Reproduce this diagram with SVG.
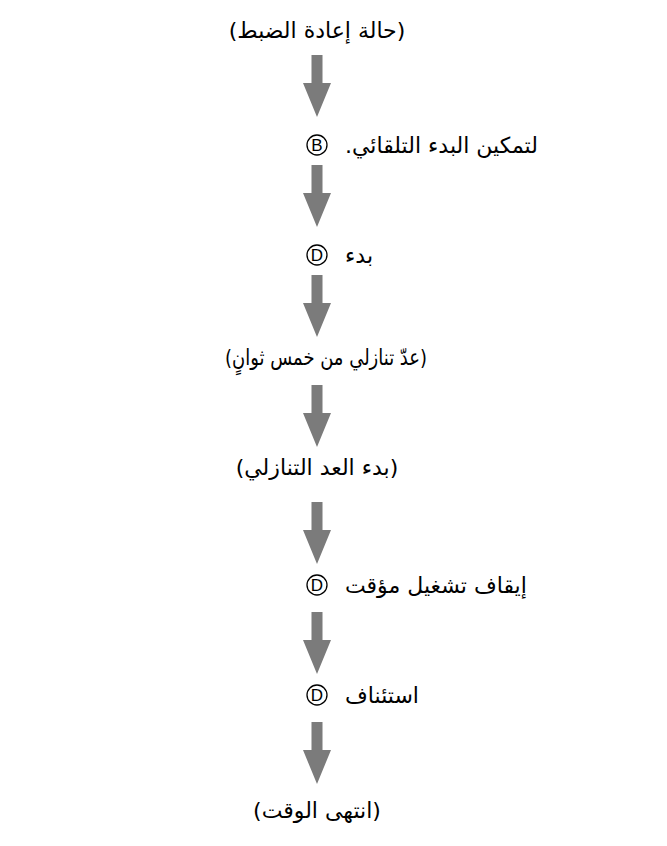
<svg xmlns="http://www.w3.org/2000/svg" width="667" height="846" viewBox="0 0 667 846">
  <defs>
    <style>
      .t { font-family: "DejaVu Sans", "Liberation Sans", sans-serif; font-size: 22px; fill: #000; direction: rtl; unicode-bidi: embed; }
      .c { text-anchor: middle; }
      .r { text-anchor: end; }
      .badge circle { fill: #fff; stroke: #000; stroke-width: 1.3; }
      .badge text { font-family: "Liberation Sans", Arial, sans-serif; font-size: 17px; text-anchor: middle; fill: #000; }
      .arrow { fill: #7b7b7b; }
    </style>
    <path id="arr" d="M -5.5 0 H 5.5 V 28 H 14 L 0 62 L -14 28 H -5.5 Z"/>
  </defs>
  <rect width="667" height="846" fill="#fff"/>

  <g id="connectors" class="arrow">
    <use href="#arr" x="317" y="55"/>
    <use href="#arr" x="317" y="165"/>
    <use href="#arr" x="317" y="275"/>
    <use href="#arr" x="317" y="385"/>
    <use href="#arr" x="317" y="502"/>
    <use href="#arr" x="317" y="612"/>
    <use href="#arr" x="317" y="722"/>
  </g>

  <g id="node-reset">
    <text class="t c" x="317" y="38">(حالة إعادة الضبط)</text>
  </g>

  <g id="node-autostart">
    <g class="badge"><circle cx="317" cy="145" r="10"/><text x="317" y="151">B</text></g>
    <text class="t r" x="345" y="153">لتمكين البدء التلقائي.</text>
  </g>

  <g id="node-start">
    <g class="badge"><circle cx="317" cy="255" r="10"/><text x="317" y="261">D</text></g>
    <text class="t r" x="345" y="263">بدء</text>
  </g>

  <g id="node-countdown5">
    <text class="t c" x="326" y="365" textLength="202" lengthAdjust="spacingAndGlyphs">(عدّ تنازلي من خمس ثوانٍ)</text>
  </g>

  <g id="node-countdown-start">
    <text class="t c" x="317" y="475">(بدء العد التنازلي)</text>
  </g>

  <g id="node-pause">
    <g class="badge"><circle cx="317" cy="585" r="10"/><text x="317" y="591">D</text></g>
    <text class="t r" x="345" y="593">إيقاف تشغيل مؤقت</text>
  </g>

  <g id="node-resume">
    <g class="badge"><circle cx="317" cy="695" r="10"/><text x="317" y="701">D</text></g>
    <text class="t r" x="345" y="703">استئناف</text>
  </g>

  <g id="node-timeup">
    <text class="t c" x="317" y="818">(انتهى الوقت)</text>
  </g>
</svg>
